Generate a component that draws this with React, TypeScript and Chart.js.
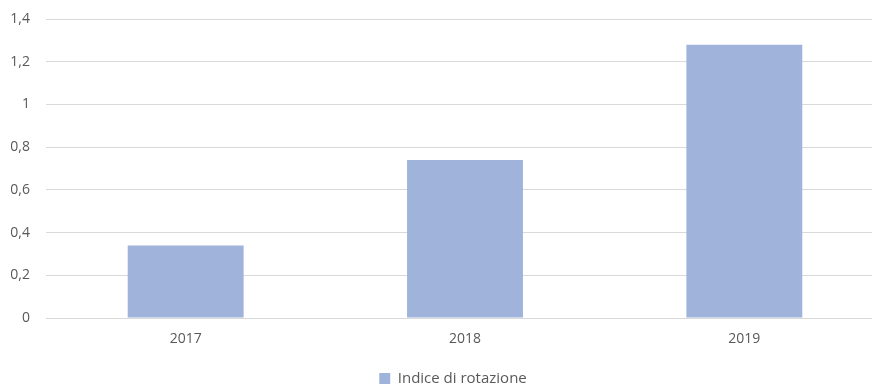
import React, { useEffect, useRef } from "react";
import { Chart, registerables } from "chart.js";

Chart.register(...registerables);

const categories = ["2017", "2018", "2019"];
const seriesName = "Indice di rotazione";
const values = [0.34, 0.74, 1.28];
const yTicks = [0, 0.2, 0.4, 0.6, 0.8, 1, 1.2, 1.4];

const legendShift = {
  id: "legendShift",
  afterLayout(chart: any) {
    const lg = chart.legend;
    if (!lg) return;
    lg.left += 11;
    lg.right += 11;
  },
};

export default function App() {
  const ref = useRef<HTMLCanvasElement | null>(null);
  useEffect(() => {
    if (!ref.current) return;
    const font = { family: "'Open Sans', 'Liberation Sans', sans-serif", size: 14 };
    const chart = new Chart(ref.current, {
      type: "bar",
      data: {
        labels: categories,
        datasets: [
          {
            label: seriesName,
            data: values,
            backgroundColor: "#A0B4DB",
            borderWidth: 0,
            categoryPercentage: 1,
            barPercentage: 0.415,
          },
        ],
      },
      plugins: [legendShift],
      options: {
        animation: false,
        responsive: false,
        maintainAspectRatio: false,
        layout: { padding: { top: 19, right: 20, left: 0, bottom: -12 } },
        plugins: {
          tooltip: { enabled: false },
          legend: {
            position: "bottom",
            labels: {
              font: { ...font, size: 15 },
              color: "#595959",
              boxWidth: 11,
              boxHeight: 11,
              padding: 0,
            },
          },
        },
        scales: {
          x: {
            grid: { display: false, drawTicks: false },
            border: { display: false },
            ticks: { font, color: "#595959", padding: 13 },
            afterFit: (s: any) => {
              s.height = 53;
              s.paddingLeft = 0;
              s.paddingRight = 0;
            },
          },
          y: {
            min: 0,
            max: 1.4,
            afterBuildTicks: (s: any) => {
              s.ticks = yTicks.map((v) => ({ value: v }));
            },
            afterFit: (s: any) => {
              s.width = 46;
              s.paddingTop = 0;
              s.paddingBottom = 0;
            },
            grid: { color: "#D9D9D9", drawTicks: false, lineWidth: 1 },
            border: { display: false },
            ticks: {
              font,
              color: "#595959",
              padding: 16,
              callback: (v: any) => String(v).replace(".", ","),
            },
          },
        },
      },
    });
    return () => chart.destroy();
  }, []);
  return (
    <div style={{ position: "absolute", left: 0, top: 0, width: 872, height: 384, overflow: "hidden", background: "#fff" }}>
      <canvas ref={ref} width={904} height={384} style={{ width: 904, height: 384 }} />
    </div>
  );
}
